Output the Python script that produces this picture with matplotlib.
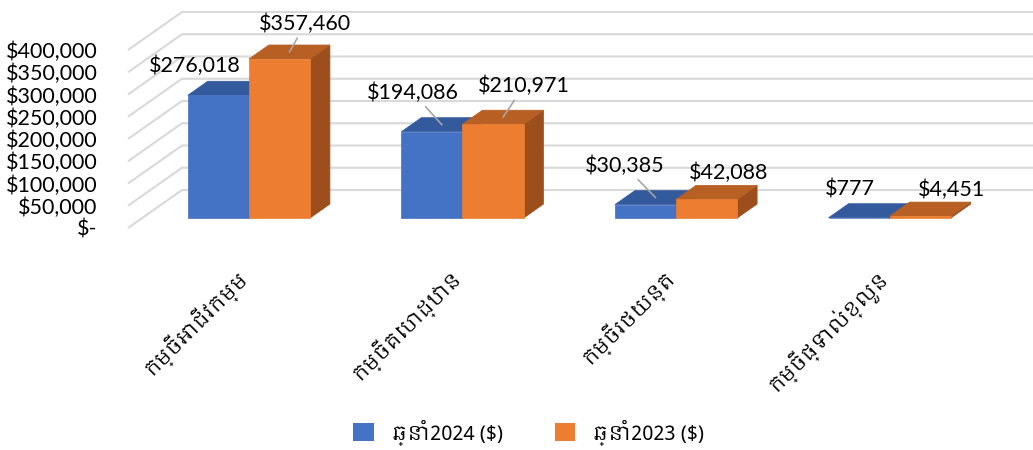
import matplotlib
matplotlib.use('Agg')
import matplotlib.pyplot as plt
from matplotlib import font_manager
from matplotlib.patches import Polygon, Patch
from matplotlib.ticker import FuncFormatter

# data
categories = ['កម្ចីអាជីវកម្ម', 'កម្ចីគេហដ្ឋាន', 'កម្ចីរថយន្ត', 'កម្ចីផ្ទាល់ខ្លួន']
series_names = ['ឆ្នាំ2024 ($)', 'ឆ្នាំ2023 ($)']
values_2024 = [276018, 194086, 30385, 777]
values_2023 = [357460, 210971, 42088, 4451]
y_ticks = [0, 50000, 100000, 150000, 200000, 250000, 300000, 350000, 400000]

# colours: front, top, side
blue = ['#4472C4', '#335A9C', '#2E5189']
orange = ['#ED7D31', '#B85F24', '#9C4F1C']
grid_col = '#D9D9D9'

# numbers in Lato, Khmer text in a Khmer font if one is around
plt.rcParams['font.family'] = ['Lato', 'DejaVu Sans']
khmer = [f.name for f in font_manager.fontManager.ttflist if 'Khmer' in f.name]
kh_fams = khmer[:1] + ['Lato', 'DejaVu Sans']

fig = plt.figure(figsize=(10.33, 4.5), dpi=100)
ax = fig.add_axes([128 / 1033, 222 / 450, 848 / 1033, 178 / 450])
ax.set_xlim(-0.5, 3.47)
ax.set_ylim(0, 400000)

# oblique depth (full floor depth) in data units
DX = 54 / 213.6
DY = 38 * 400000 / 178
Z0, Z1 = 0.26, 0.63   # bars sit in the middle of the floor
BW = 0.286


def P(x, y, z):
    return (x + z * DX, y + z * DY)


# walls: slanted side lines + back wall lines
for v in y_ticks:
    a, b, c = P(-0.5, v, 0), P(-0.5, v, 1), P(3.55, v, 1)
    ax.plot([a[0], b[0], c[0]], [a[1], b[1], c[1]], color=grid_col, lw=1.5,
            clip_on=False, zorder=1, solid_capstyle='butt')

# bars
tops = []
for i in range(len(categories)):
    for s, (vals, cols) in enumerate([(values_2024, blue), (values_2023, orange)]):
        v = vals[i]
        x0 = i - BW + s * BW
        x1 = x0 + BW
        front = [P(x0, 0, Z0), P(x1, 0, Z0), P(x1, v, Z0), P(x0, v, Z0)]
        top = [P(x0, v, Z0), P(x1, v, Z0), P(x1, v, Z1), P(x0, v, Z1)]
        side = [P(x1, 0, Z0), P(x1, 0, Z1), P(x1, v, Z1), P(x1, v, Z0)]
        for poly, col in zip([side, top, front], [cols[2], cols[1], cols[0]]):
            ax.add_patch(Polygon(poly, closed=True, facecolor=col, edgecolor=col,
                                 lw=0.5, clip_on=False, zorder=3))
        tops.append((P((x0 + x1) / 2, v, (Z0 + Z1) / 2), v))

# value labels (pixel offsets from the top face centre)
label_off = [(-33, 22), (16, 28), (-29, 32), (21, 31),
             (-31, 32), (12, 19), (-19, 21), (21, 19)]
leader = [False, True, True, True, True, False, False, False]
for (xy, v), off, ld in zip(tops, label_off, leader):
    ax.annotate(f'${v:,}', xy=xy, xytext=off, textcoords='offset pixels',
                ha='center', va='center', fontsize=15.5, color='#000000',
                annotation_clip=False, zorder=5,
                arrowprops=dict(arrowstyle='-', color='#A6A6A6', lw=1.2,
                                shrinkA=1, shrinkB=0) if ld else None)

for sp in ax.spines.values():
    sp.set_visible(False)
ax.set_yticks(y_ticks)
ax.yaxis.set_major_formatter(FuncFormatter(lambda v, p: '$-' if v == 0 else f'${v:,.0f}'))
ax.tick_params(axis='y', length=0, pad=22, labelsize=15.5)
ax.set_xticks(range(len(categories)))
ax.set_xticklabels(categories, fontsize=14.5, rotation=45, ha='right',
                   rotation_mode='anchor', family=kh_fams)
ax.tick_params(axis='x', length=0, pad=27)
ax.patch.set_visible(False)

handles = [Patch(facecolor=blue[0]), Patch(facecolor=orange[0])]
fig.legend(handles, series_names, loc='center', bbox_to_anchor=(0.512, 0.04),
           ncol=2, frameon=False, handlelength=1.0, handleheight=1.0,
           columnspacing=2.6, handletextpad=0.9,
           prop=font_manager.FontProperties(family=kh_fams, size=14.5))

fig.savefig('out.png', dpi=100)
